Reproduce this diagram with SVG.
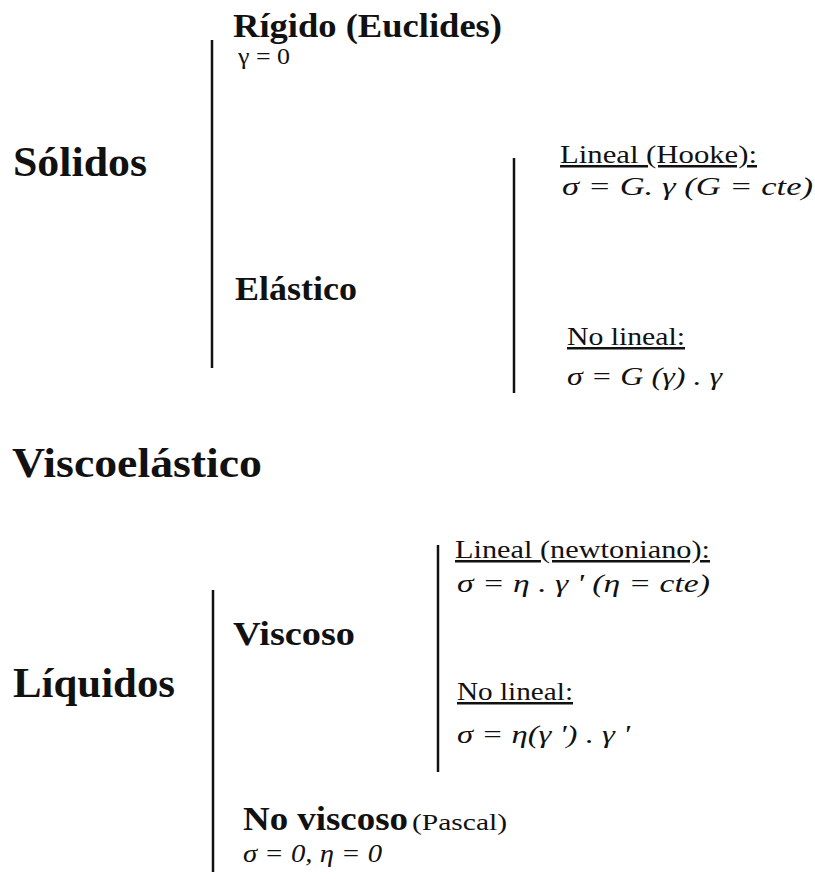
<svg xmlns="http://www.w3.org/2000/svg" width="815" height="879" viewBox="0 0 815 879">
<style>
text{fill:#111;font-family:"Liberation Serif","Times New Roman",serif}
.big{font-weight:bold;font-size:43px}
.sub{font-weight:bold;font-size:33px}
.lab{font-size:25px;text-decoration:underline}
.eq{font-style:italic;font-size:26px}
.reg{font-size:23px}
.br{stroke:#111;stroke-width:2.5;fill:none}
</style>
<rect width="815" height="879" fill="#fff"/>
<g id="connectors">
<line class="br" x1="212" y1="40" x2="212" y2="368"/>
<line class="br" x1="514" y1="158" x2="514" y2="393"/>
<line class="br" x1="438" y1="545" x2="438" y2="772"/>
<line class="br" x1="213" y1="590" x2="213" y2="872"/>
</g>
<g id="solidos"><text class="big" x="13" y="176" textLength="134" lengthAdjust="spacingAndGlyphs">Sólidos</text></g>
<g id="rigido">
<text class="sub" x="233" y="37" textLength="269" lengthAdjust="spacingAndGlyphs">Rígido (Euclides)</text>
<text class="reg" x="238" y="64" font-size="22" textLength="52" lengthAdjust="spacingAndGlyphs">γ = 0</text>
</g>
<g id="elastico"><text class="sub" x="235" y="300" textLength="122" lengthAdjust="spacingAndGlyphs">Elástico</text></g>
<g id="lineal-hooke">
<text class="lab" x="560" y="163" textLength="197" lengthAdjust="spacingAndGlyphs">Lineal (Hooke):</text>
<text class="eq" x="562" y="195" textLength="251" lengthAdjust="spacingAndGlyphs">σ = G. γ (G = cte)</text>
</g>
<g id="nolineal-solido">
<text class="lab" x="567" y="345" textLength="118" lengthAdjust="spacingAndGlyphs">No lineal:</text>
<text class="eq" x="567" y="385" textLength="155" lengthAdjust="spacingAndGlyphs">σ = G (γ) . γ</text>
</g>
<g id="viscoelastico"><text class="big" x="12" y="477" font-size="44" textLength="250" lengthAdjust="spacingAndGlyphs">Viscoelástico</text></g>
<g id="lineal-newton">
<text class="lab" x="455" y="558" textLength="255" lengthAdjust="spacingAndGlyphs">Lineal (newtoniano):</text>
<text class="eq" x="457" y="592" textLength="253" lengthAdjust="spacingAndGlyphs">σ = η . γ ' (η = cte)</text>
</g>
<g id="viscoso"><text class="sub" x="233" y="645" textLength="122" lengthAdjust="spacingAndGlyphs">Viscoso</text></g>
<g id="liquidos"><text class="big" x="13" y="697" textLength="162" lengthAdjust="spacingAndGlyphs">Líquidos</text></g>
<g id="nolineal-liquido">
<text class="lab" x="457" y="700" textLength="116" lengthAdjust="spacingAndGlyphs">No lineal:</text>
<text class="eq" x="457" y="743" textLength="173" lengthAdjust="spacingAndGlyphs">σ = η(γ ') . γ '</text>
</g>
<g id="noviscoso">
<text class="sub" x="243" y="830" font-size="30" textLength="165" lengthAdjust="spacingAndGlyphs">No viscoso</text>
<text class="reg" x="412" y="830" textLength="95" lengthAdjust="spacingAndGlyphs">(Pascal)</text>
<text class="eq" x="243" y="862" textLength="139" lengthAdjust="spacingAndGlyphs">σ = 0, η = 0</text>
</g>
</svg>
